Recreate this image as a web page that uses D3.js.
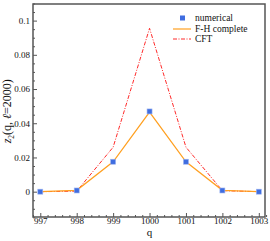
<!DOCTYPE html>
<html>
<head>
<meta charset="utf-8">
<script src="https://cdn.jsdelivr.net/npm/d3@7"></script>
<style>
  body { margin: 0; background: #fff; }
  svg text { font-family: "Liberation Serif", "DejaVu Serif", serif; }
</style>
</head>
<body>
<div id="chart"></div>
<script>
// data
const qValues = [997, 998, 999, 1000, 1001, 1002, 1003];
const numerical = [0, 0.0007, 0.0175, 0.0469, 0.0175, 0.0007, 0];
const fhComplete = [0, 0.0008, 0.0175, 0.0465, 0.0175, 0.0008, 0];
const cft = [0, 0.0003, 0.026, 0.0955, 0.026, 0.0006, 0];
const xTicks = [997, 998, 999, 1000, 1001, 1002, 1003];
const yTicks = [0, 0.02, 0.04, 0.06, 0.08, 0.1];
const legendLabels = ['numerical', 'F-H complete', 'CFT'];

const width = 270, height = 241;
const margin = { top: 4, right: 5, bottom: 24, left: 33 };

const svg = d3.select('#chart')
    .append('svg')
    .attr('width', width)
    .attr('height', height);

const x = d3.scaleLinear()
    .domain([996.8, 1003.17])
    .range([margin.left, width - margin.right]);
const y = d3.scaleLinear()
    .domain([-0.0148, 0.1097])
    .range([height - margin.bottom, margin.top]);

const frameColor = '#555';

// minor ticks, pointing inward
const xMinor = d3.range(996.8, 1003.2, 0.2).filter(v => Math.abs(v - Math.round(v)) > 0.01);
const yMinor = d3.range(-0.015, 0.1101, 0.005).filter(v => Math.abs(v / 0.02 - Math.round(v / 0.02)) > 0.01);

svg.append('g')
    .attr('transform', `translate(0,${height - margin.bottom})`)
    .call(d3.axisBottom(x).tickValues(xMinor).tickSize(-2).tickFormat(''))
    .call(g => g.select('.domain').remove())
    .selectAll('line').attr('stroke', frameColor);

svg.append('g')
    .attr('transform', `translate(${margin.left},0)`)
    .call(d3.axisLeft(y).tickValues(yMinor).tickSize(-2).tickFormat(''))
    .call(g => g.select('.domain').remove())
    .selectAll('line').attr('stroke', frameColor);

// major ticks
const xAxis = svg.append('g')
    .attr('transform', `translate(0,${height - margin.bottom})`)
    .call(d3.axisBottom(x).tickValues(xTicks).tickSize(-4).tickPadding(0.5).tickFormat(d3.format('d')));
xAxis.select('.domain').remove();
xAxis.selectAll('line').attr('stroke', frameColor);
xAxis.selectAll('text').attr('font-size', 9).attr('fill', '#111')
    .style('font-family', '"Liberation Serif", serif');

const yAxis = svg.append('g')
    .attr('transform', `translate(${margin.left},0)`)
    .call(d3.axisLeft(y).tickValues(yTicks).tickSize(-4).tickPadding(3)
        .tickFormat(d => d === 0 ? '0' : d3.format('')(+d.toFixed(2))));
yAxis.select('.domain').remove();
yAxis.selectAll('line').attr('stroke', frameColor);
yAxis.selectAll('text').attr('font-size', 9).attr('fill', '#111')
    .style('font-family', '"Liberation Serif", serif');

// frame
svg.append('rect')
    .attr('x', margin.left)
    .attr('y', margin.top)
    .attr('width', width - margin.left - margin.right)
    .attr('height', height - margin.top - margin.bottom)
    .attr('fill', 'none')
    .attr('stroke', frameColor)
    .attr('stroke-width', 1.5);

// series
const line = d3.line()
    .x((d, i) => x(qValues[i]))
    .y(d => y(d));

svg.append('path')
    .datum(cft)
    .attr('d', line)
    .attr('fill', 'none')
    .attr('stroke', '#ff2a2a')
    .attr('stroke-width', 1)
    .attr('stroke-dasharray', '4,1.5,1,1.5');

svg.append('path')
    .datum(fhComplete)
    .attr('d', line)
    .attr('fill', 'none')
    .attr('stroke', '#ffa020')
    .attr('stroke-width', 1.2);

svg.selectAll('.num-marker')
    .data(numerical)
    .join('rect')
    .attr('class', 'num-marker')
    .attr('x', (d, i) => x(qValues[i]) - 2.5)
    .attr('y', d => y(d) - 2.5)
    .attr('width', 5)
    .attr('height', 5)
    .attr('fill', '#3f6de0')
    .attr('stroke', '#9db4f0')
    .attr('stroke-width', 0.6);

// legend
const legend = svg.append('g').attr('transform', 'translate(173,18)');
legend.append('rect')
    .attr('x', 7).attr('y', -2.5).attr('width', 5).attr('height', 5)
    .attr('fill', '#3f6de0');
legend.append('line')
    .attr('x1', 0).attr('x2', 18).attr('y1', 11).attr('y2', 11)
    .attr('stroke', '#ffa020').attr('stroke-width', 1.2);
legend.append('line')
    .attr('x1', 0).attr('x2', 18).attr('y1', 21).attr('y2', 21)
    .attr('stroke', '#ff2a2a').attr('stroke-width', 1)
    .attr('stroke-dasharray', '4,1.5,1,1.5');
legend.selectAll('.legend-text')
    .data(legendLabels)
    .join('text')
    .attr('class', 'legend-text')
    .attr('x', 22)
    .attr('y', (d, i) => i * 10.5 + 3)
    .attr('font-size', 9.5)
    .attr('fill', '#111')
    .text(d => d);

// axis titles
svg.append('text')
    .attr('x', x(1000))
    .attr('y', 236)
    .attr('text-anchor', 'middle')
    .attr('font-size', 11)
    .attr('fill', '#111')
    .text('q');

const yTitle = svg.append('text')
    .attr('transform', `translate(11,${y(0.047)}) rotate(-90)`)
    .attr('text-anchor', 'middle')
    .attr('font-size', 12)
    .attr('fill', '#111');
yTitle.append('tspan').attr('font-style', 'italic').text('z');
yTitle.append('tspan').attr('font-size', 7.5).attr('dy', 2.5).text('2');
yTitle.append('tspan').attr('dy', -2.5).text('(q, ');
yTitle.append('tspan').attr('font-style', 'italic').text('ℓ');
yTitle.append('tspan').text('=2000)');
</script>
</body>
</html>
